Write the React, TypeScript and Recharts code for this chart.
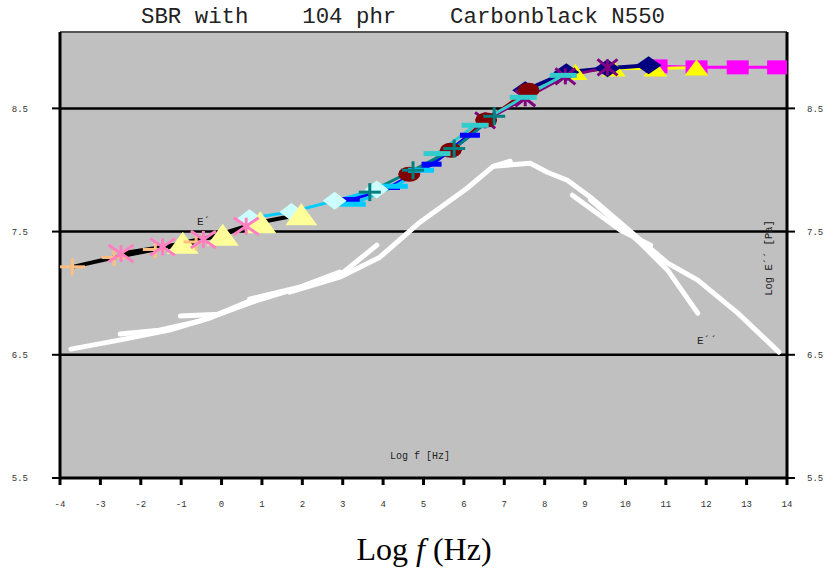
import React from 'react';
import { LineChart, Line, XAxis, YAxis, ReferenceLine, ReferenceArea } from 'recharts';

// ---- axes ----
const xTicks = [-4, -3, -2, -1, 0, 1, 2, 3, 4, 5, 6, 7, 8, 9, 10, 11, 12, 13, 14];
const yTicks = [5.5, 6.5, 7.5, 8.5];
const gridValues = [6.5, 7.5, 8.5];
const xDomain = [-4, 14];
const yDomain = [5.5, 9.12];

// ---- E' (storage modulus) isotherm segments ----
const orangePlus = [
  { x: -3.69, y: 7.214 }, { x: -2.66, y: 7.29 }, { x: -1.64, y: 7.355 }, { x: -0.63, y: 7.416 },
];
const pinkStar = [
  { x: -2.49, y: 7.322 }, { x: -1.46, y: 7.376 }, { x: -0.45, y: 7.436 }, { x: 0.61, y: 7.544 },
];
const paleTriangle = [
  { x: -0.96, y: 7.41 }, { x: 0.03, y: 7.475 }, { x: 0.96, y: 7.576 }, { x: 1.975, y: 7.641 },
];
const paleDiamond = [
  { x: 0.69, y: 7.609 }, { x: 1.73, y: 7.66 }, { x: 2.8, y: 7.75 }, { x: 3.84, y: 7.841 },
];
const skyDash = [
  { x: 3.25, y: 7.722 }, { x: 4.29, y: 7.868 }, { x: 4.94, y: 7.998 },
];
const blueDash = [
  { x: 3.175, y: 7.76 }, { x: 4.17, y: 7.858 }, { x: 5.2, y: 8.047 }, { x: 6.15, y: 8.282 },
];
const tealPlus = [
  { x: 3.67, y: 7.82 }, { x: 4.74, y: 7.998 }, { x: 5.76, y: 8.174 }, { x: 6.75, y: 8.436 },
];
const turquoiseDash = [
  { x: 5.335, y: 8.133 }, { x: 6.28, y: 8.363 }, { x: 7.47, y: 8.59 }, { x: 8.46, y: 8.768 },
];
const maroonCircle = [
  { x: 4.647, y: 7.966 }, { x: 5.675, y: 8.16 }, { x: 6.551, y: 8.406 }, { x: 7.601, y: 8.647 },
];
const purpleStar = [
  { x: 6.526, y: 8.403 }, { x: 7.519, y: 8.582 }, { x: 8.512, y: 8.76 }, { x: 9.555, y: 8.833 },
];
const navyDiamond = [
  { x: 7.519, y: 8.647 }, { x: 8.537, y: 8.793 }, { x: 9.555, y: 8.825 }, { x: 10.573, y: 8.85 },
];
const yellowTriangle = [
  { x: 8.76, y: 8.795 }, { x: 9.71, y: 8.823 }, { x: 10.74, y: 8.823 }, { x: 11.76, y: 8.831 },
];
const magentaSquare = [
  { x: 10.77, y: 8.841 }, { x: 11.76, y: 8.833 }, { x: 12.78, y: 8.833 }, { x: 13.78, y: 8.833 },
];

// ---- E'' (loss modulus) isotherm segments ----
const loss1 = [
  { x: -3.727, y: 6.546 }, { x: -2.535, y: 6.619 }, { x: -1.294, y: 6.7 }, { x: -0.301, y: 6.798 }, { x: 0.618, y: 6.927 },
];
const loss2 = [
  { x: -2.51, y: 6.668 }, { x: -1.542, y: 6.7 }, { x: -0.549, y: 6.773 }, { x: 0.444, y: 6.895 }, { x: 1.189, y: 6.976 },
];
const loss3 = [
  { x: -1.021, y: 6.814 }, { x: -0.053, y: 6.83 }, { x: 0.816, y: 6.936 }, { x: 1.81, y: 7.033 }, { x: 2.926, y: 7.171 },
];
const loss4 = [
  { x: 0.692, y: 6.952 }, { x: 1.934, y: 7.049 }, { x: 2.926, y: 7.146 }, { x: 3.845, y: 7.39 },
];
const loss5 = [
  { x: 1.685, y: 7.009 }, { x: 2.926, y: 7.13 }, { x: 3.92, y: 7.292 }, { x: 4.913, y: 7.576 },
  { x: 6.08, y: 7.852 }, { x: 6.725, y: 8.03 }, { x: 7.147, y: 8.071 },
];
const loss6 = [
  { x: 6.725, y: 8.03 }, { x: 7.644, y: 8.055 }, { x: 8.066, y: 7.982 }, { x: 8.562, y: 7.917 },
  { x: 9.133, y: 7.779 }, { x: 10.375, y: 7.43 }, { x: 11.045, y: 7.244 }, { x: 11.79, y: 7.106 },
  { x: 12.783, y: 6.838 }, { x: 13.8, y: 6.522 },
];
const loss7 = [
  { x: 8.686, y: 7.795 }, { x: 9.878, y: 7.511 }, { x: 10.623, y: 7.39 },
];
const loss8 = [
  { x: 9.133, y: 7.76 }, { x: 10.375, y: 7.406 }, { x: 11.045, y: 7.187 }, { x: 11.79, y: 6.838 },
];

const lossSegments = [loss1, loss2, loss3, loss4, loss5, loss6, loss7, loss8];

type Shape = 'plus' | 'star' | 'triangle' | 'diamond' | 'dash' | 'ellipse' | 'square';

interface SeriesDef {
  name: string;
  data: { x: number; y: number }[];
  line: string;
  lineWidth: number;
  shape: Shape;
  color: string;
  w: number;
  h: number;
}

// drawing order: bottom -> top
const storageSeries: SeriesDef[] = [
  { name: 'magenta', data: magentaSquare, line: '#FF00FF', lineWidth: 3, shape: 'square', color: '#FF00FF', w: 22, h: 14 },
  { name: 'yellow', data: yellowTriangle, line: '#FFFF00', lineWidth: 3, shape: 'triangle', color: '#FFFF00', w: 24, h: 16 },
  { name: 'navy', data: navyDiamond, line: '#000080', lineWidth: 4, shape: 'diamond', color: '#000080', w: 26, h: 18 },
  { name: 'purple', data: purpleStar, line: '#800080', lineWidth: 3, shape: 'star', color: '#800080', w: 20, h: 16 },
  { name: 'maroon', data: maroonCircle, line: '#800000', lineWidth: 3, shape: 'ellipse', color: '#800000', w: 22, h: 15 },
  { name: 'blue', data: blueDash, line: '#0000FF', lineWidth: 4, shape: 'dash', color: '#0000FF', w: 20, h: 5 },
  { name: 'sky', data: skyDash, line: '#00CCFF', lineWidth: 3, shape: 'dash', color: '#00CCFF', w: 26, h: 5 },
  { name: 'palediamond', data: paleDiamond, line: '#00CCFF', lineWidth: 3, shape: 'diamond', color: '#CCFFFF', w: 24, h: 18 },
  { name: 'teal', data: tealPlus, line: '#008080', lineWidth: 3, shape: 'plus', color: '#008080', w: 22, h: 18 },
  { name: 'turquoise', data: turquoiseDash, line: '#33CCCC', lineWidth: 3, shape: 'dash', color: '#33CCCC', w: 27, h: 5 },
  { name: 'paletriangle', data: paleTriangle, line: '#000000', lineWidth: 4, shape: 'triangle', color: '#FFFF99', w: 32, h: 22 },
  { name: 'orange', data: orangePlus, line: '#000000', lineWidth: 4, shape: 'plus', color: '#FFBF80', w: 25, h: 17 },
  { name: 'pink', data: pinkStar, line: '#000000', lineWidth: 4, shape: 'star', color: '#FF80C0', w: 25, h: 17 },
];

function makeDot(s: SeriesDef) {
  return (p: any) => {
    const { cx, cy, index } = p;
    const k = `${s.name}-${index}`;
    if (cx == null || cy == null) return <g key={k} />;
    const hw = s.w / 2;
    const hh = s.h / 2;
    switch (s.shape) {
      case 'plus':
        return (
          <g key={k} stroke={s.color} strokeWidth={3}>
            <line x1={cx - hw} y1={cy} x2={cx + hw} y2={cy} />
            <line x1={cx} y1={cy - hh} x2={cx} y2={cy + hh} />
          </g>
        );
      case 'star':
        return (
          <g key={k} stroke={s.color} strokeWidth={3}>
            <line x1={cx} y1={cy - hh} x2={cx} y2={cy + hh} />
            <line x1={cx - hw} y1={cy - hh} x2={cx + hw} y2={cy + hh} />
            <line x1={cx - hw} y1={cy + hh} x2={cx + hw} y2={cy - hh} />
          </g>
        );
      case 'triangle':
        return (
          <polygon key={k} fill={s.color}
            points={`${cx},${cy - hh} ${cx + hw},${cy + hh} ${cx - hw},${cy + hh}`} />
        );
      case 'diamond':
        return (
          <polygon key={k} fill={s.color}
            points={`${cx},${cy - hh} ${cx + hw},${cy} ${cx},${cy + hh} ${cx - hw},${cy}`} />
        );
      case 'dash':
        return <rect key={k} x={cx - hw} y={cy - hh} width={s.w} height={s.h} fill={s.color} />;
      case 'ellipse':
        return <ellipse key={k} cx={cx} cy={cy} rx={hw} ry={hh} fill={s.color} />;
      case 'square':
        return <rect key={k} x={cx - hw} y={cy - hh} width={s.w} height={s.h} fill={s.color} />;
      default:
        return <g key={k} />;
    }
  };
}

const tickStyle = { fontFamily: 'Liberation Mono, monospace', fontSize: 9, fill: '#333' };

export default function App() {
  return (
    <div style={{ position: 'absolute', left: 0, top: 0, width: 834, height: 573, background: '#fff' }}>
      <LineChart width={834} height={573} margin={{ top: 32, right: 0, bottom: 0, left: 0 }}>
        <XAxis
          dataKey="x"
          type="number"
          domain={xDomain}
          ticks={xTicks}
          interval={0}
          allowDataOverflow
          height={95}
          axisLine={{ stroke: '#000', strokeWidth: 3 }}
          tickLine={{ stroke: '#000', strokeWidth: 3 }}
          tickSize={7}
          tickMargin={16}
          tick={tickStyle}
        />
        <YAxis
          yAxisId="L"
          orientation="left"
          type="number"
          domain={yDomain}
          ticks={yTicks}
          allowDataOverflow
          width={60}
          axisLine={{ stroke: '#000', strokeWidth: 3 }}
          tickLine={{ stroke: '#000', strokeWidth: 2 }}
          tickSize={8}
          tickMargin={24}
          tick={tickStyle}
        />
        <YAxis
          yAxisId="R"
          orientation="right"
          type="number"
          domain={yDomain}
          ticks={yTicks}
          allowDataOverflow
          width={47}
          axisLine={{ stroke: '#000', strokeWidth: 3 }}
          tickLine={{ stroke: '#000', strokeWidth: 2 }}
          tickSize={8}
          tickMargin={12}
          tick={tickStyle}
        />
        <ReferenceArea yAxisId="L" x1={xDomain[0]} x2={xDomain[1]} y1={yDomain[0]} y2={yDomain[1]}
          fill="#C0C0C0" fillOpacity={1} stroke="none" />
        <ReferenceLine yAxisId="L" y={yDomain[1]} stroke="#555" strokeWidth={2} />
        {gridValues.map((v) => (
          <ReferenceLine key={`g${v}`} yAxisId="L" y={v} stroke="#000" strokeWidth={2.5} />
        ))}
        {lossSegments.map((seg, i) => (
          <Line
            key={`loss${i}`}
            yAxisId="L"
            data={seg}
            dataKey="y"
            type="linear"
            stroke="#FFFFFF"
            strokeWidth={5}
            strokeLinecap="round"
            strokeLinejoin="round"
            dot={false}
            activeDot={false}
            isAnimationActive={false}
          />
        ))}
        {storageSeries.map((s) => (
          <Line
            key={s.name}
            yAxisId="L"
            data={s.data}
            dataKey="y"
            type="linear"
            stroke={s.line}
            strokeWidth={s.lineWidth}
            strokeLinejoin="round"
            dot={makeDot(s)}
            activeDot={false}
            isAnimationActive={false}
          />
        ))}
      </LineChart>
      <svg width={834} height={573} style={{ position: 'absolute', left: 0, top: 0, pointerEvents: 'none' }}>
        <text x={403} y={23} textAnchor="middle" xmlSpace="preserve"
          style={{ whiteSpace: 'pre' }}
          fontFamily="Liberation Mono, monospace" fontSize={22.4} fill="#222">
          {'SBR with    104 phr    Carbonblack N550'}
        </text>
        <text x={424} y={560} textAnchor="middle" fontFamily="Liberation Serif, serif" fontSize={32} fill="#000">
          <tspan>Log </tspan>
          <tspan fontStyle="italic">f</tspan>
          <tspan> (Hz)</tspan>
        </text>
        <text x={197} y={225} fontFamily="Liberation Mono, monospace" fontSize={11} fill="#222">E´</text>
        <text x={697} y={344} fontFamily="Liberation Mono, monospace" fontSize={11} fill="#222">E´´</text>
        <text x={420} y={459} textAnchor="middle" fontFamily="Liberation Mono, monospace" fontSize={10} fill="#222">Log f [Hz]</text>
        <text x={0} y={0} textAnchor="middle" transform="translate(772,258) rotate(-90)"
          fontFamily="Liberation Mono, monospace" fontSize={10.5} fill="#222">Log E´´ [Pa]</text>
      </svg>
    </div>
  );
}
